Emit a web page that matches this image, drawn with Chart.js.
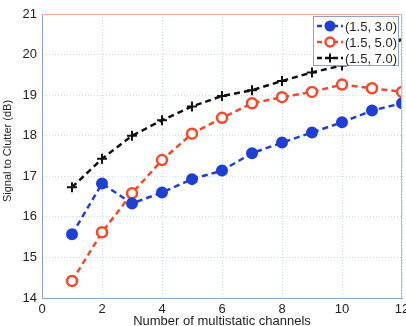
<!DOCTYPE html>
<html>
<head>
<meta charset="utf-8">
<script src="https://cdn.jsdelivr.net/npm/chart.js@4"></script>
<style>
  html, body { margin: 0; padding: 0; background: #fff; }
  #wrap { width: 406px; height: 326px; }
</style>
</head>
<body>
<div id="wrap"><canvas id="snrChart"></canvas></div>
<script>
const channels = [1, 2, 3, 4, 5, 6, 7, 8, 9, 10, 11, 12];
const seriesLabels = ['(1.5, 3.0)', '(1.5, 5.0)', '(1.5, 7.0)'];
const scr30 = [15.57, 16.82, 16.33, 16.6, 16.93, 17.14, 17.57, 17.83, 18.08, 18.33, 18.62, 18.8];
const scr50 = [14.42, 15.62, 16.58, 17.4, 18.05, 18.44, 18.8, 18.95, 19.08, 19.26, 19.17, 19.08];
const scr70 = [16.73, 17.43, 18.0, 18.38, 18.72, 18.98, 19.12, 19.35, 19.56, 19.73, 20.05, 20.37];
const xTicks = [0, 2, 4, 6, 8, 10, 12];
const yTicks = [14, 15, 16, 17, 18, 19, 20, 21];

const FONT = 'Liberation Sans, Arial, Helvetica, sans-serif';
const BLUE = '#1f3fd0';
const RED = '#f2492c';
const BLACK = '#111111';

function toPoints(vals) {
    return channels.map((c, i) => ({ x: c, y: vals[i] }));
}

// legend box + frame + axis titles, drawn the matlab way
const matlabDecor = {
    id: 'matlabDecor',
    afterDraw(chart) {
        const { ctx, chartArea: a } = chart;
        ctx.save();
        // top / right frame
        ctx.strokeStyle = '#f0a8a0';
        ctx.lineWidth = 1;
        ctx.beginPath();
        ctx.moveTo(a.left, a.top + 0.5);
        ctx.lineTo(a.right - 0.5, a.top + 0.5);
        ctx.lineTo(a.right - 0.5, a.bottom);
        ctx.stroke();

        // legend
        const lx = 313, ly = 16, lw = 85, lh = 49;
        ctx.fillStyle = '#fff';
        ctx.fillRect(lx, ly, lw, lh);
        ctx.strokeStyle = '#8aa4c4';
        ctx.lineWidth = 1;
        ctx.strokeRect(lx + 0.5, ly + 0.5, lw, lh);
        ctx.font = '13px ' + FONT;
        ctx.textBaseline = 'middle';
        chart.data.datasets.forEach((ds, i) => {
            const cy = ly + 10 + i * 16;
            ctx.strokeStyle = ds.borderColor;
            ctx.lineWidth = 2.5;
            ctx.setLineDash([5, 3]);
            ctx.beginPath();
            ctx.moveTo(lx + 4, cy);
            ctx.lineTo(lx + 30, cy);
            ctx.stroke();
            ctx.setLineDash([]);
            ctx.lineWidth = ds.pointBorderWidth;
            ctx.fillStyle = ds.pointBackgroundColor;
            Chart.helpers.drawPoint(ctx, {
                pointStyle: ds.pointStyle,
                radius: 4.5,
                borderWidth: ds.pointBorderWidth,
                rotation: 0
            }, lx + 17, cy);
            ctx.fillStyle = '#222';
            ctx.fillText(ds.label, lx + 32, cy + 1);
        });

        // axis titles
        ctx.fillStyle = '#222';
        ctx.font = '13px ' + FONT;
        ctx.textAlign = 'center';
        ctx.textBaseline = 'alphabetic';
        ctx.fillText('Number of multistatic channels', (a.left + a.right) / 2, 325);
        ctx.font = '11px ' + FONT;
        ctx.translate(8, 151);
        ctx.rotate(-Math.PI / 2);
        ctx.textBaseline = 'middle';
        ctx.fillText('Signal to Clutter (dB)', 0, 0);
        ctx.restore();
    }
};

function makeSet(label, vals, color, style, fill) {
    return {
        label,
        data: toPoints(vals),
        clip: 0,
        borderColor: color,
        borderWidth: 2.5,
        borderDash: [6, 4],
        pointStyle: style,
        pointRadius: 5,
        pointBorderWidth: style === 'circle' && !fill ? 2.5 : 2,
        pointBackgroundColor: fill ? color : '#fff',
        pointBorderColor: color,
        tension: 0
    };
}

new Chart(document.getElementById('snrChart'), {
    type: 'line',
    data: {
        datasets: [
            makeSet(seriesLabels[0], scr30, BLUE, 'circle', true),
            makeSet(seriesLabels[1], scr50, RED, 'circle', false),
            makeSet(seriesLabels[2], scr70, BLACK, 'cross', false)
        ]
    },
    options: {
        responsive: true,
        maintainAspectRatio: false,
        animation: false,
        layout: {
            autoPadding: false,
            padding: { top: 14, right: 4, left: 0, bottom: 0 }
        },
        plugins: {
            legend: { display: false },
            tooltip: { enabled: false }
        },
        scales: {
            x: {
                type: 'linear',
                min: 0,
                max: 12,
                afterBuildTicks: (s) => { s.ticks = xTicks.map(v => ({ value: v })); },
                afterFit: (s) => {
                    s.height = 28;
                    s.paddingLeft = 0;
                    s.paddingRight = 0;
                },
                grid: {
                    color: '#c6dcf2',
                    lineWidth: 1,
                    drawTicks: false
                },
                border: { color: '#8aa4c4', dash: [1, 2] },
                ticks: {
                    color: '#222',
                    font: { family: FONT, size: 13 },
                    padding: 4,
                    maxRotation: 0
                }
            },
            y: {
                min: 14,
                max: 21,
                afterBuildTicks: (s) => { s.ticks = yTicks.map(v => ({ value: v })); },
                afterFit: (s) => {
                    s.width = 42;
                    s.paddingTop = 0;
                    s.paddingBottom = 0;
                },
                grid: {
                    color: '#c6dcf2',
                    lineWidth: 1,
                    drawTicks: false
                },
                border: { color: '#8aa4c4', dash: [1, 2] },
                ticks: {
                    color: '#222',
                    font: { family: FONT, size: 13 },
                    padding: 5
                }
            }
        }
    },
    plugins: [matlabDecor]
});
</script>
</body>
</html>
